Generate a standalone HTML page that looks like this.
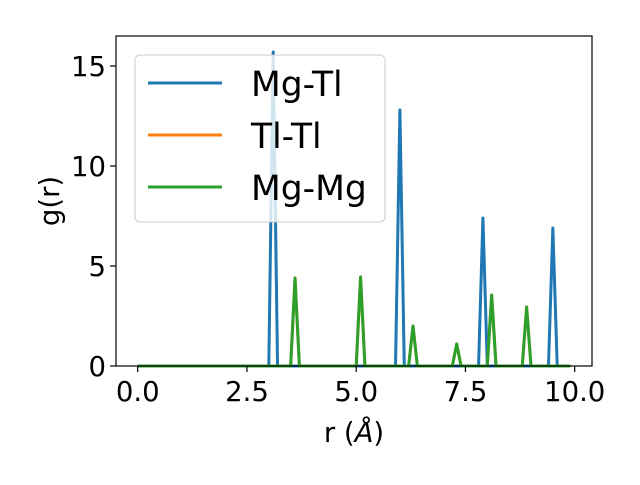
<!DOCTYPE html>
<html><head><meta charset="utf-8"><style>
body{margin:0;background:#fff}
svg text{font-family:"DejaVu Sans","Liberation Sans",sans-serif;fill:#000}
</style></head><body>
<svg width="640" height="480" xmlns="http://www.w3.org/2000/svg">
<g id="plot"></g>
</svg>
<script>
const blueR=[0,3.0,3.1,3.2,5.9,6.0,6.1,7.8,7.9,8.0,9.4,9.5,9.6,9.9];
const blueG=[0,0,15.7,0,0,12.8,0,0,7.4,0,0,6.9,0,0];
const greenR=[0,3.5,3.6,3.7,5.0,5.1,5.2,6.2,6.3,6.4,7.2,7.3,7.4,8.0,8.1,8.2,8.8,8.9,9.0,9.9];
const greenG=[0,0,4.4,0,0,4.45,0,0,2.0,0,0,1.1,0,0,3.55,0,0,2.95,0,0];
const orangeR=greenR.slice();
const orangeG=greenG.slice();
const xTicks=[0,2.5,5,7.5,10];
const xTickLabels=["0.0","2.5","5.0","7.5","10.0"];
const yTicks=[0,5,10,15];
const yTickLabels=["0","5","10","15"];
const seriesNames=["Mg-Tl","Tl-Tl","Mg-Mg"];
const colors=["#1f77b4","#ff7f0e","#2ca02c"];

const L=116,R=592,T=36,B=366;
const sx=v=>137.7+v*43.7;
const sy=v=>366-v*20;
const NS="http://www.w3.org/2000/svg";
const g=document.getElementById('plot');
function mk(tag,attrs,parent){const e=document.createElementNS(NS,tag);for(const k in attrs)e.setAttribute(k,attrs[k]);(parent||g).appendChild(e);return e;}

function line(rs,gs,c,name){
  const pts=rs.map((r,i)=>sx(r).toFixed(2)+','+sy(gs[i]).toFixed(2)).join(' ');
  const p=mk('polyline',{points:pts,fill:'none',stroke:c,'stroke-width':3,'stroke-linejoin':'round'});
  
  
}
line(blueR,blueG,colors[0],'series-mg-tl');
line(orangeR,orangeG,colors[1],'series-tl-tl');
line(greenR,greenG,colors[2],'series-mg-mg');

const frame=mk('rect',{x:L,y:T,width:R-L,height:B-T,fill:'none',stroke:'#000','stroke-width':1.2});



xTicks.forEach((v,i)=>{
  const x=sx(v);
  const t=mk('line',{x1:x,x2:x,y1:B,y2:B+6,stroke:'#000','stroke-width':1.2});
  
  
  const l=mk('text',{x:x,y:B+35,'text-anchor':'middle','font-size':27.5});
  l.textContent=xTickLabels[i];
  
  
});
yTicks.forEach((v,i)=>{
  const y=sy(v);
  const t=mk('line',{x1:L-6,x2:L,y1:y,y2:y,stroke:'#000','stroke-width':1.2});
  
  
  const l=mk('text',{x:L-10,y:y+10,'text-anchor':'end','font-size':27.5});
  l.textContent=yTickLabels[i];
  
  
});

const xl=mk('text',{x:354,y:442,'text-anchor':'middle','font-size':27.5});
xl.innerHTML='r (<tspan font-style="italic">Å</tspan>)';


const yl=mk('text',{x:0,y:0,'text-anchor':'middle','font-size':27.5,transform:'translate(59,201) rotate(-90)'});
yl.textContent='g(r)';



const lg=mk('g',{});


mk('rect',{x:135,y:55,width:250,height:167,rx:5,fill:'#fff','fill-opacity':0.8,stroke:'#ccc','stroke-width':1},lg);
seriesNames.forEach((n,i)=>{
  const y=83+i*52;
  const ll=mk('line',{x1:148,x2:222,y1:y,y2:y,stroke:colors[i],'stroke-width':3},lg);
  
  
  const tt=mk('text',{x:251,y:y+13,'font-size':34.5},lg);
  tt.textContent=n;
  
  
});
</script>
</body></html>
